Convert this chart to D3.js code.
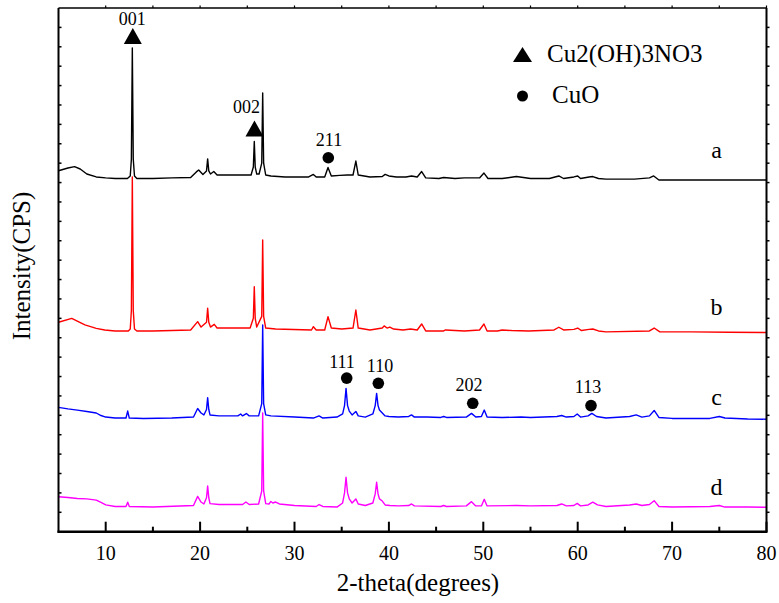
<!DOCTYPE html>
<html>
<head>
<meta charset="utf-8">
<script src="https://cdn.jsdelivr.net/npm/d3@7"></script>
<style>
  body { margin: 0; background: #ffffff; }
  svg text { font-family: "Liberation Serif", "Times New Roman", serif; fill: #000; }
</style>
</head>
<body>
<svg id="chart" width="779" height="603"></svg>
<script>
// XRD patterns of samples a–d, 2θ (degrees) vs. counts; each pattern is stacked on its own offset
const xTickValues = [10, 20, 30, 40, 50, 60, 70, 80];
const sampleNames = ["a", "b", "c", "d"];
const sampleOffsets = [1800, 1000, 550, 100];

const patternA = [[5.0,61],[6.0,75],[6.7,82],[7.3,70],[8.0,44],[9.0,29],[10,24],[11,21],[12.3,21],[12.6,34],[12.72,120],[12.82,694],[12.92,120],[13.05,34],[13.3,21],[15,21],[17,24],[19,26],[19.6,55],[19.85,65],[20.3,42],[20.68,60],[20.8,122],[20.92,60],[21.1,44],[21.45,57],[21.8,39],[23,39],[24.5,39],[25.4,39],[25.64,80],[25.74,212],[25.84,80],[26.0,44],[26.25,44],[26.53,100],[26.63,462],[26.73,100],[26.95,39],[27.5,34],[29,29],[31.5,29],[32.0,42],[32.3,29],[33.2,29],[33.55,78],[33.9,34],[34.8,37],[35.6,39],[36.2,39],[36.5,111],[36.75,39],[38,29],[39.3,31],[39.6,42],[40.0,34],[40.8,29],[41.8,29],[42.4,34],[43.0,29],[43.47,57],[43.9,24],[45.3,21],[45.8,26],[47,21],[48,24],[49.6,24],[50.07,49],[50.5,21],[52,21],[53.5,31],[55,21],[57,21],[58.0,34],[58.5,21],[59.6,29],[60.0,34],[60.3,21],[61.2,29],[61.6,31],[62.2,21],[63,18],[66,18],[67.6,24],[68.05,34],[68.6,13],[72,13],[76,13],[80,13]];

const patternB = [[5.0,80],[6.4,100],[7.8,66],[9.0,48],[9.9,40],[11,35],[12.4,35],[12.6,45],[12.72,140],[12.82,829],[12.92,140],[13.05,45],[13.3,35],[15,35],[17,37],[19,40],[19.74,83],[20.1,55],[20.68,80],[20.8,152],[20.92,80],[21.1,55],[21.5,69],[21.8,50],[23,50],[25.3,50],[25.64,100],[25.74,263],[25.84,100],[26.0,55],[26.53,110],[26.63,504],[26.73,110],[26.95,50],[28,45],[31.8,40],[32.0,57],[32.3,40],[33.2,40],[33.55,109],[33.9,50],[35,45],[36.2,50],[36.5,143],[36.75,50],[38,40],[39.3,50],[39.5,61],[39.8,50],[40.1,55],[40.5,45],[41.5,40],[42.3,45],[43.0,40],[43.47,71],[43.9,35],[45.8,35],[46,40],[48,35],[49.6,40],[50.07,71],[50.4,35],[51.5,35],[52,40],[53,37],[54.8,35],[57.5,40],[58.0,54],[58.5,40],[59.6,43],[60.0,50],[60.4,37],[61.2,43],[61.6,45],[62.2,35],[63,30],[67.6,35],[68.1,50],[68.7,30],[72,30],[76,28],[80,27]];

const patternC = [[5,91],[6,83],[7,77],[8,70],[9,62],[9.5,49],[10,41],[11,36],[12.15,36],[12.33,72],[12.5,36],[14,34],[17,36],[19.3,41],[19.74,85],[20.1,62],[20.4,52],[20.68,80],[20.8,141],[20.92,80],[21.05,52],[22,47],[24,47],[24.3,57],[24.5,47],[24.9,59],[25.2,47],[26.2,47],[26.53,110],[26.63,516],[26.73,110],[26.95,52],[27.5,47],[30,41],[32,36],[32.6,47],[33,36],[34.5,41],[35.1,57],[35.3,100],[35.46,189],[35.62,100],[35.8,72],[36.1,52],[36.5,70],[36.75,47],[37.5,41],[38.3,57],[38.55,100],[38.7,163],[38.85,100],[39.0,77],[39.3,62],[39.6,47],[40,44],[41,41],[42.1,44],[42.4,52],[42.7,41],[44,41],[45.5,39],[45.8,44],[46.1,39],[48.2,41],[48.75,60],[49.2,41],[49.8,44],[50.1,77],[50.4,41],[52,39],[54,41],[55,39],[57.8,44],[58.3,49],[58.8,41],[59.6,44],[59.95,57],[60.3,41],[61.1,47],[61.5,60],[62.0,44],[63,36],[65.5,44],[66.2,52],[66.8,41],[67.6,47],[68.1,75],[68.6,39],[70,34],[74,34],[75,44],[75.6,36],[78,31],[80,30]];

const patternD = [[5,80],[6,76],[7,71],[8,69],[9,63],[9.5,51],[10,38],[11,30],[12.15,30],[12.33,52],[12.5,30],[15,27],[19.3,35],[19.74,82],[20.1,53],[20.4,43],[20.68,75],[20.8,136],[20.92,75],[21.05,45],[22,40],[24.5,40],[24.85,53],[25.2,40],[26.2,43],[26.53,110],[26.63,512],[26.73,110],[26.95,45],[27.3,43],[27.5,56],[27.7,48],[28.0,53],[28.4,43],[30,35],[32.3,30],[32.6,40],[33,30],[34.5,27],[35.1,48],[35.3,100],[35.46,181],[35.62,100],[35.8,69],[36.1,48],[36.5,69],[36.75,43],[37.5,35],[38.3,48],[38.55,95],[38.7,155],[38.85,95],[39.0,69],[39.3,58],[39.6,38],[40.1,35],[41,33],[42.1,35],[42.4,43],[42.7,33],[45.5,30],[45.8,35],[46.1,30],[48.2,33],[48.75,55],[49.2,33],[49.8,33],[50.1,67],[50.4,33],[53.5,35],[55,33],[57.8,35],[58.3,43],[58.8,33],[59.6,35],[59.95,46],[60.3,33],[61.1,38],[61.6,52],[62.1,38],[63,30],[65.5,38],[66.2,43],[66.8,35],[67.6,40],[68.1,60],[68.6,30],[70,27],[74,30],[75,35],[75.6,27],[78,27],[80,26]];

const patterns = [patternA, patternB, patternC, patternD];

// indexed reflections: Cu2(OH)3NO3 (triangles) and CuO (dots)
const reflectionHkl   = ["001", "002", "211", "111", "110", "202", "113"];
const reflectionPhase = ["tri", "tri", "dot", "dot", "dot", "dot", "dot"];
const reflectionTheta = [12.87, 25.76, 33.58, 35.53, 38.88, 48.88, 61.41];
const reflectionLevel = [2556, 2079, 1928, 792, 765, 662, 650];

const legendNames = ["Cu2(OH)3NO3", "CuO"];

// ---------- layout ----------
const svg = d3.select("#chart");
const plot = { left: 58.5, right: 766.5, top: 8, bottom: 531.7 };
const colors = ["#000000", "#ff0000", "#0000ff", "#ff00ff"];

const x = d3.scaleLinear().domain([5, 80]).range([plot.left, plot.right]);
const y = d3.scaleLinear().domain([0, 2700]).range([plot.bottom, plot.top]);

// ---------- patterns (d first so a sits on top) ----------
const line = d3.line().x(d => x(d[0])).y(d => y(d[1]));
const drawOrder = [3, 2, 1, 0];
svg.append("g").selectAll("path")
  .data(drawOrder)
  .join("path")
  .attr("d", i => line(patterns[i].map(p => [p[0], p[1] + sampleOffsets[i]])))
  .attr("fill", "none")
  .attr("stroke", i => colors[i])
  .attr("stroke-width", 1.4)
  .attr("stroke-linejoin", "round");

// ---------- frame & ticks ----------
const frame = svg.append("g").attr("stroke", "#000").attr("fill", "none");
frame.append("line").attr("x1", plot.left).attr("x2", plot.right).attr("y1", plot.top).attr("y2", plot.top).attr("stroke-width", 1.5);
frame.append("line").attr("x1", plot.right).attr("x2", plot.right).attr("y1", plot.top).attr("y2", plot.bottom).attr("stroke-width", 2);
frame.append("line").attr("x1", plot.left).attr("x2", plot.left).attr("y1", plot.top).attr("y2", plot.bottom + 1).attr("stroke-width", 2);
frame.append("line").attr("x1", plot.left - 1).attr("x2", plot.right + 1).attr("y1", plot.bottom).attr("y2", plot.bottom).attr("stroke-width", 2.4);

const xAllTicks = d3.range(10, 81, 5);
frame.selectAll(".xb").data(xAllTicks).join("line")
  .attr("x1", d => x(d)).attr("x2", d => x(d))
  .attr("y1", plot.bottom).attr("y2", d => plot.bottom - (d % 10 === 0 ? 10 : 5))
  .attr("stroke-width", 2);
frame.selectAll(".xt").data(xAllTicks).join("line")
  .attr("x1", d => x(d)).attr("x2", d => x(d))
  .attr("y1", plot.top).attr("y2", plot.top - 2.5)
  .attr("stroke-width", 1.2);

const yAllTicks = d3.range(100, 2700, 100);
frame.selectAll(".yl").data(yAllTicks).join("line")
  .attr("x1", plot.left).attr("x2", plot.left + 3)
  .attr("y1", d => y(d)).attr("y2", d => y(d))
  .attr("stroke-width", 1.5);
frame.selectAll(".yr").data(yAllTicks).join("line")
  .attr("x1", plot.right).attr("x2", plot.right + 3)
  .attr("y1", d => y(d)).attr("y2", d => y(d))
  .attr("stroke-width", 1.5);

svg.append("g").selectAll("text").data(xTickValues).join("text")
  .attr("x", d => x(d)).attr("y", 560)
  .attr("text-anchor", "middle")
  .attr("font-size", 20)
  .text(d => d);

// axis titles
svg.append("text")
  .attr("x", 418).attr("y", 591)
  .attr("text-anchor", "middle")
  .attr("font-size", 25)
  .text("2-theta(degrees)");
svg.append("text")
  .attr("transform", "translate(30,266) rotate(-90)")
  .attr("text-anchor", "middle")
  .attr("font-size", 25)
  .text("Intensity(CPS)");

// ---------- sample labels ----------
const sampleLabelLevel = [1927, 1117, 653, 189];
svg.append("g").selectAll("text").data(sampleNames).join("text")
  .attr("x", x(74.7))
  .attr("y", (d, i) => y(sampleLabelLevel[i]))
  .attr("text-anchor", "middle")
  .attr("font-size", 24)
  .text(d => d);

// ---------- reflection markers ----------
function triangle(cx, cy, hw, hh) {
  return `M${cx},${cy - hh}L${cx + hw},${cy + hh}L${cx - hw},${cy + hh}Z`;
}
const hklNudge = { "001": [-0.5, -11], "002": [-8, -15.5], "211": [0.7, -11.7], "111": [-4.7, -10],
                   "110": [1.7, -11.3], "202": [-3.7, -12.3], "113": [-3, -12.7] };
const marks = svg.append("g");
reflectionHkl.forEach((hkl, i) => {
  const cx = x(reflectionTheta[i]), cy = y(reflectionLevel[i]);
  if (reflectionPhase[i] === "tri") {
    marks.append("path").attr("d", triangle(cx, cy, 9, 8)).attr("fill", "#000");
  } else {
    marks.append("circle").attr("cx", cx).attr("cy", cy).attr("r", 5.8).attr("fill", "#000");
  }
  marks.append("text")
    .attr("x", cx + hklNudge[hkl][0]).attr("y", cy + hklNudge[hkl][1])
    .attr("text-anchor", "middle")
    .attr("font-size", 18)
    .text(hkl);
});

// ---------- legend ----------
const legend = svg.append("g");
legend.append("path").attr("d", triangle(522.5, 54.5, 9.5, 7.5)).attr("fill", "#000");
legend.append("text").attr("x", 547).attr("y", 62).attr("font-size", 25).text(legendNames[0]);
legend.append("circle").attr("cx", 522.5).attr("cy", 96).attr("r", 5.5).attr("fill", "#000");
legend.append("text").attr("x", 552).attr("y", 103).attr("font-size", 25).text(legendNames[1]);
</script>
</body>
</html>
